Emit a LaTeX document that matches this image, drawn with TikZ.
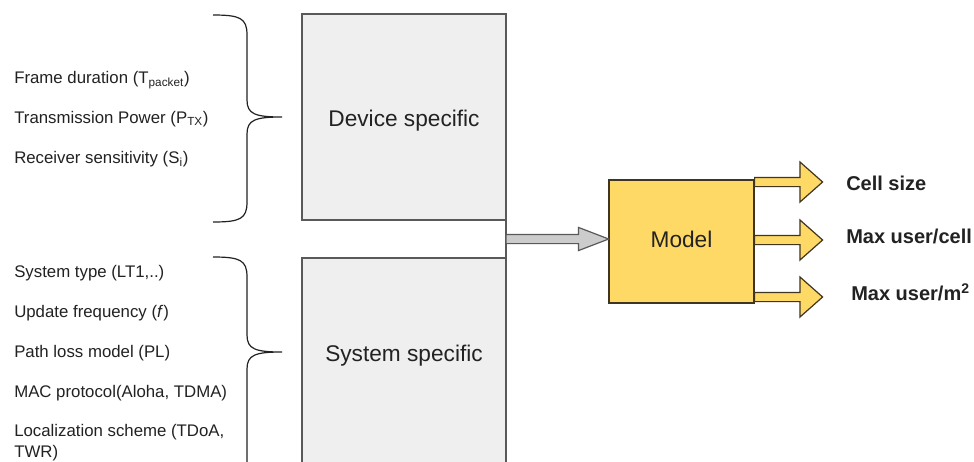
\documentclass[tikz,border=0pt]{standalone}
\usepackage{fontspec}
\setmainfont{Liberation Sans}
\usetikzlibrary{shapes.arrows,calc}

\definecolor{boxgray}{HTML}{EFEFEF}
\definecolor{edgegray}{HTML}{595959}
\definecolor{modelyellow}{HTML}{FFD966}
\definecolor{modeledge}{HTML}{3F3520}
\definecolor{feedgray}{HTML}{CCCCCC}
\definecolor{inktext}{HTML}{222222}

\tikzset{
  specbox/.style={draw=edgegray, fill=boxgray, line width=0.9pt, minimum width=153pt, inner sep=0pt, outer sep=0pt},
  boxtext/.style={font=\fontsize{17}{20}\selectfont, text=inktext},
  param/.style={anchor=base west, font=\fontsize{12.6}{15}\selectfont, text=inktext, inner sep=0pt, align=left},
  result/.style={anchor=base west, font=\fontsize{15}{18}\selectfont\bfseries, text=inktext, inner sep=0pt},
  brace/.style={draw=inktext, line width=0.9pt},
  feedarrow/.style={single arrow, draw=edgegray, fill=feedgray, line width=0.9pt,
    inner xsep=0pt, inner ysep=3pt, minimum width=0pt, outer sep=0pt,
    single arrow head extend=5.25pt, single arrow tip angle=42, minimum height=77pt},
  outarrow/.style={single arrow, draw=modeledge, fill=modelyellow, line width=0.9pt,
    inner xsep=0pt, inner ysep=3pt, minimum width=0pt, outer sep=0pt,
    single arrow head extend=11.6pt, single arrow tip angle=83, minimum height=51pt},
}

\begin{document}
\begin{tikzpicture}[x=0.75pt, y=-0.75pt]
  \clip (0,0) rectangle (974,461);
  \fill[white] (0,0) rectangle (974,461);

  % input blocks
  \node[specbox, minimum height=154.5pt, anchor=north west] (device) at (302,14) {};
  \node[boxtext, anchor=base] (devlbl) at (404,126) {Device specific};
  \node[specbox, minimum height=170pt, anchor=north west] (system) at (302,258) {};
  \node[boxtext, anchor=base] (syslbl) at (404,361) {System specific};
  \draw[edgegray, line width=0.9pt] (device.south east) -- (system.north east);

  % parameters
  \foreach \ty/\txt in {83/{Frame duration (T\textsubscript{packet})},
                        123/{Transmission Power (P\textsubscript{TX})},
                        163/{Receiver sensitivity (S\textsubscript{i})}}
    \node[param] (dev-\ty) at (14,\ty) {\txt};
  \foreach \ty/\txt in {277/{System type (LT1,..)},
                        317/{Update frequency (\textit{f})},
                        357/{Path loss model (PL)},
                        397/{MAC protocol(Aloha, TDMA)}}
    \node[param] (sys-\ty) at (14,\ty) {\txt};
  % base of a two-line node sits on its last line
  \node[param] (sys-437) at (14,457) {Localization scheme (TDoA,\\[0.3pt]TWR)};

  \draw[brace] (213,15) .. controls (240,15) and (247,18) .. (247,35) -- (247,100)
    .. controls (247,114) and (255,117) .. (282,117)
    .. controls (255,117) and (247,120) .. (247,134) -- (247,202)
    .. controls (247,219) and (240,222) .. (213,222);
  \draw[brace] (213,257) .. controls (240,257) and (247,260) .. (247,277) -- (247,335)
    .. controls (247,349) and (255,352) .. (282,352)
    .. controls (255,352) and (247,355) .. (247,369) -- (247,470);

  % model and outputs
  \node[draw=modeledge, fill=modelyellow, line width=0.9pt, minimum width=108.75pt,
        minimum height=92.25pt] (model) at (681.5,241.5) {};
  \node[boxtext, anchor=base] (modellbl) at (681.5,247) {Model};
  \coordinate (join) at ($(device.south east)!0.5!(system.north east)$);
  \node[feedarrow, anchor=tail] (feed) at (join) {};

  \foreach \ay/\ly/\lx/\nm/\txt in {182/190/846/cell/{Cell size},
                                    240/243/846/percell/{Max user/cell},
                                    297/300/851/perarea/{Max user/m\textsuperscript{2}}}
  {
    \node[outarrow, anchor=tail] (to-\nm) at (model.east |- 0,\ay) {};
    \node[result] (\nm) at (\lx,\ly) {\txt};
  }
\end{tikzpicture}
\end{document}
